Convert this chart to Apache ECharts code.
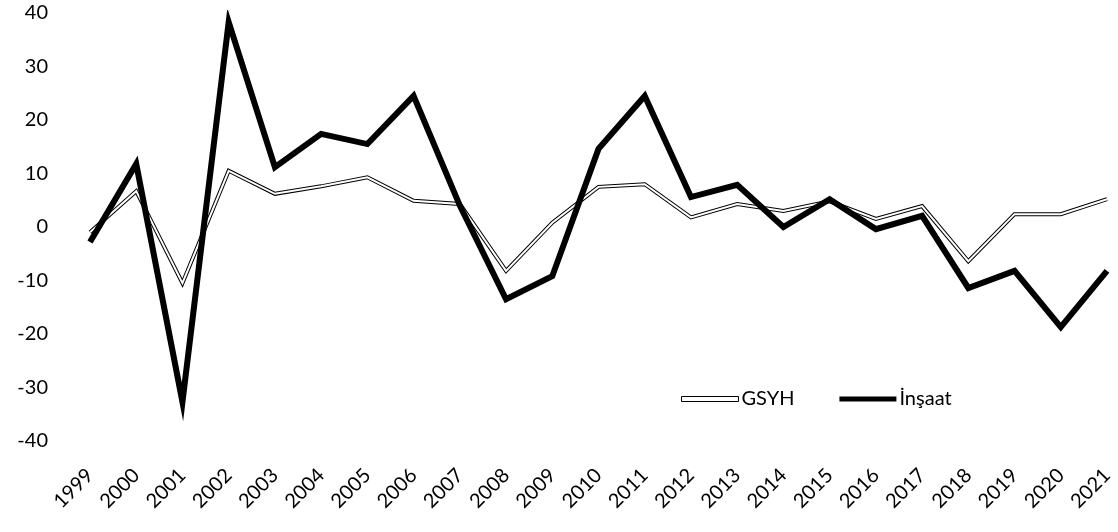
<!DOCTYPE html>
<html>
<head>
<meta charset="utf-8">
<script src="https://cdn.jsdelivr.net/npm/echarts@6/dist/echarts.min.js"></script>
<style>
  html, body { margin: 0; padding: 0; background: #fff; }
  #chart { width: 1118px; height: 532px; }
</style>
</head>
<body>
<div id="chart"></div>
<script>
const years = ['1999','2000','2001','2002','2003','2004','2005','2006','2007','2008','2009','2010','2011','2012','2013','2014','2015','2016','2017','2018','2019','2020','2021'];
const gsyh = [-1.0, 6.7, -10.5, 10.5, 6.2, 7.6, 9.3, 4.9, 4.3, -8.2, 0.8, 7.5, 8.0, 1.8, 4.3, 3.0, 4.8, 1.5, 3.9, -6.4, 2.4, 2.4, 5.2];
const insaat = [-2.8, 11.8, -32.7, 38.3, 11.2, 17.4, 15.5, 24.5, 4.0, -13.5, -9.2, 14.6, 24.5, 5.6, 7.9, 0.0, 5.2, -0.4, 2.1, -11.4, -8.2, -18.7, -8.2];
const yTicks = { min: -40, max: 40, interval: 10 };

const font = 'Lato, "Open Sans", sans-serif';
const chart = echarts.init(document.getElementById('chart'), null, { renderer: 'canvas' });
chart.setOption({
  animation: false,
  backgroundColor: '#fff',
  grid: { left: 90, right: 11, top: 13, bottom: 91, containLabel: false },
  legend: {
    left: 676, top: 384,
    itemWidth: 57, itemHeight: 5, itemGap: 45,
    textStyle: { fontFamily: font, fontSize: 20, color: '#000', padding: [0, 0, 0, -2] },
    data: [
      { name: 'GSYH', icon: 'rect', itemStyle: { color: '#fff', borderColor: '#000', borderWidth: 1 } },
      { name: 'İnşaat', icon: 'rect', itemStyle: { color: '#000' } }
    ]
  },
  xAxis: {
    type: 'category', data: years, boundaryGap: false,
    axisLine: { show: false }, axisTick: { show: false }, splitLine: { show: false },
    axisLabel: { rotate: 45, margin: 31, interval: 0, fontFamily: font, fontSize: 20, color: '#000' }
  },
  yAxis: {
    type: 'value', min: yTicks.min, max: yTicks.max, interval: yTicks.interval,
    axisLine: { show: false }, axisTick: { show: false }, splitLine: { show: false },
    axisLabel: { margin: 42, fontFamily: font, fontSize: 20, color: '#000' }
  },
  series: [
    { name: 'GSYH', type: 'line', data: gsyh, symbol: 'none', z: 2,
      lineStyle: { color: '#000', width: 4, join: 'miter' }, itemStyle: { color: '#000' } },
    { name: 'GSYH_inner', type: 'line', data: gsyh, symbol: 'none', z: 3, silent: true,
      lineStyle: { color: '#fff', width: 2, join: 'miter' }, itemStyle: { color: '#fff' } },
    { name: 'İnşaat', type: 'line', data: insaat, symbol: 'none', z: 4,
      lineStyle: { color: '#000', width: 6, join: 'miter' }, itemStyle: { color: '#000' } }
  ]
});
</script>
</body>
</html>
